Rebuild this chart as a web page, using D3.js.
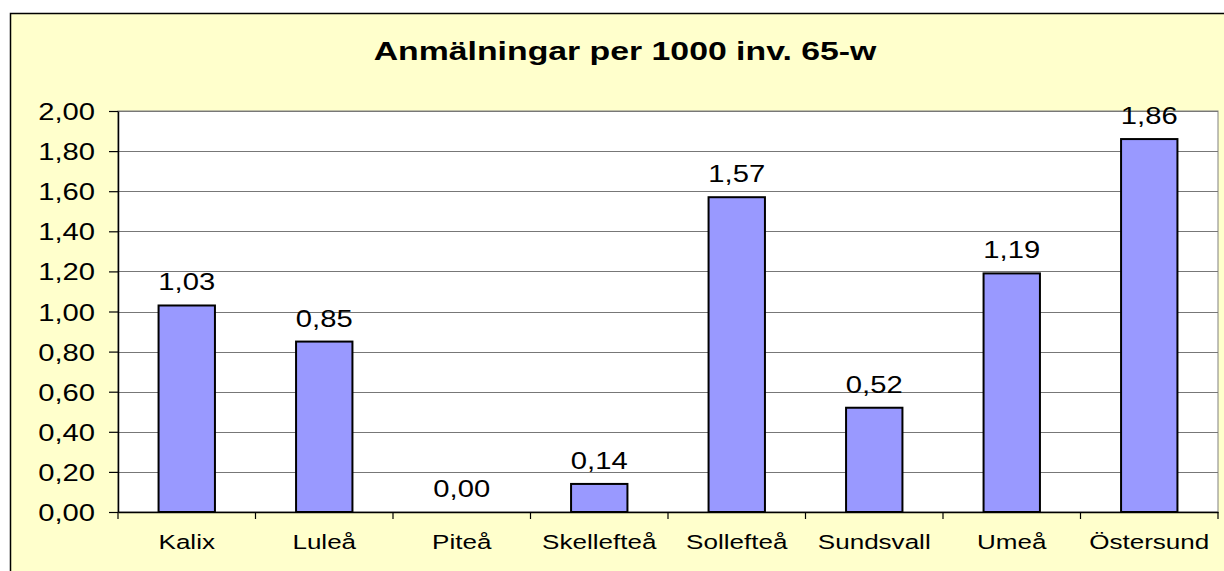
<!DOCTYPE html>
<html>
<head>
<meta charset="utf-8">
<script src="https://cdn.jsdelivr.net/npm/d3@7"></script>
<style>
body{margin:0;background:#fff;}
text{font-family:"Liberation Sans",Arial,sans-serif;fill:#000;}
</style>
</head>
<body>
<div id="chart"></div>
<script>
var w=1224,h=571;

// data
var kommuner=["Kalix","Luleå","Piteå","Skellefteå","Sollefteå","Sundsvall","Umeå","Östersund"];
var varden=[1.03,0.85,0.00,0.14,1.57,0.52,1.19,1.86];
var yTicks=[0,0.2,0.4,0.6,0.8,1.0,1.2,1.4,1.6,1.8,2.0];
var titel="Anmälningar per 1000 inv. 65-w";

var sx=1.27; // text in the picture is stretched sideways

var sv=d3.formatLocale({decimal:",",thousands:" ",grouping:[3],currency:["","kr"]});
var fmt=sv.format(".2f");

var svg=d3.select("#chart")
	.append("svg")
	.attr("width",w)
	.attr("height",h);

// chart area
svg.append("rect")
	.attr("x",10.5)
	.attr("y",13.5)
	.attr("width",1240)
	.attr("height",600)
	.style("fill","#ffffcc")
	.style("stroke","#000")
	.style("stroke-width",1.5);

var m={left:118,top:111,right:1218,bottom:512};

var x=d3.scaleBand()
	.domain(kommuner)
	.range([m.left,m.right])
	.paddingInner(0.59)
	.paddingOuter(0.295);

var xb=d3.scaleBand().domain(kommuner).range([m.left,m.right]);

var y=d3.scaleLinear()
	.domain([0,2])
	.range([m.bottom,m.top]);

// plot background
svg.append("rect")
	.attr("x",m.left)
	.attr("y",m.top)
	.attr("width",m.right-m.left)
	.attr("height",m.bottom-m.top)
	.style("fill","#fff")
	.style("stroke","#808080")
	.style("stroke-width",1);

// gridlines
svg.append("g")
	.selectAll("line")
	.data(yTicks.slice(1))
	.enter()
	.append("line")
	.attr("x1",m.left)
	.attr("x2",m.right)
	.attr("y1",function(d){return Math.round(y(d))+0.5})
	.attr("y2",function(d){return Math.round(y(d))+0.5})
	.style("stroke","#777")
	.style("stroke-width",1.2);

// bars
svg.append("g")
	.selectAll("rect")
	.data(varden)
	.enter()
	.append("rect")
	.attr("x",function(d,i){return x(kommuner[i])})
	.attr("y",function(d){return y(d)})
	.attr("width",x.bandwidth())
	.attr("height",function(d){return y(0)-y(d)})
	.style("fill","#9999ff")
	.style("stroke","#000")
	.style("stroke-width",2);

// y axis
var yAxis=svg.append("g")
	.attr("transform","translate("+m.left+",0)")
	.call(d3.axisLeft(y).tickValues(yTicks).tickFormat(fmt).tickSize(9).tickSizeOuter(0));
yAxis.select(".domain").style("stroke","#000").style("stroke-width",1.5);
yAxis.selectAll(".tick line").style("stroke","#000").style("stroke-width",1.2);
yAxis.selectAll(".tick text")
	.attr("x",-23/sx)
	.attr("dy","0.37em")
	.attr("transform","scale("+sx+",1)")
	.style("font-size","23px");

// x axis
var xAxis=svg.append("g")
	.attr("transform","translate(0,"+m.bottom+")")
	.call(d3.axisBottom(xb).tickSize(0).tickSizeOuter(0));
xAxis.select(".domain").style("stroke","#000").style("stroke-width",1.5);
xAxis.selectAll(".tick text")
	.attr("y",0)
	.attr("dy",37)
	.attr("transform","scale("+sx+",1)")
	.attr("x",0)
	.style("font-size","20.5px");

// x ticks on category edges
svg.append("g")
	.selectAll("line")
	.data(kommuner.concat(["end"]))
	.enter()
	.append("line")
	.attr("x1",function(d,i){return i<kommuner.length?xb(d):m.right})
	.attr("x2",function(d,i){return i<kommuner.length?xb(d):m.right})
	.attr("y1",m.bottom)
	.attr("y2",m.bottom+7)
	.style("stroke","#000")
	.style("stroke-width",1.2);

// value labels
svg.append("g")
	.selectAll("g")
	.data(varden)
	.enter()
	.append("g")
	.attr("transform",function(d,i){return "translate("+(x(kommuner[i])+x.bandwidth()/2)+","+(y(d)-15)+")"})
	.append("text")
	.attr("text-anchor","middle")
	.attr("transform","scale("+sx+",1)")
	.style("font-size","23px")
	.text(function(d){return fmt(d)});

// title
svg.append("g")
	.attr("transform","translate(625,60)")
	.append("text")
	.attr("text-anchor","middle")
	.attr("transform","scale(1.3,1)")
	.style("font-size","26px")
	.style("font-weight","bold")
	.text(titel);
</script>
</body>
</html>
